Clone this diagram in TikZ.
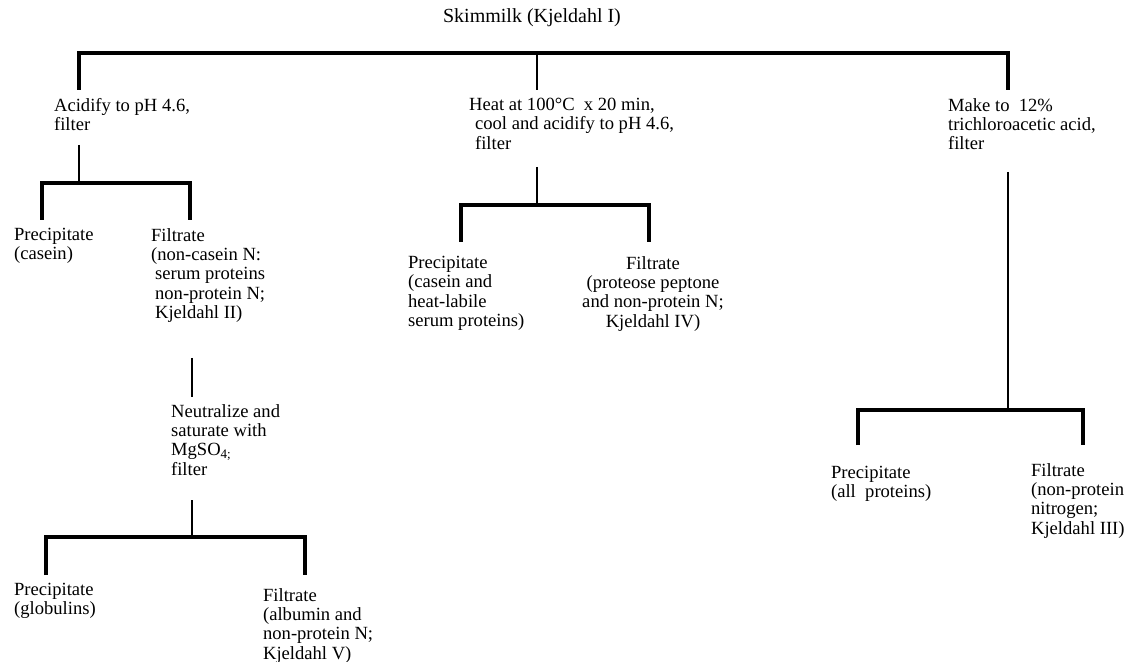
\documentclass[tikz,border=0pt]{standalone}
\usepackage{fontspec}
\setmainfont{Liberation Serif}
\usetikzlibrary{positioning}

\begin{document}
\begin{tikzpicture}[x=0.5pt,y=-0.5pt,line width=1.1pt,
		txt/.style={anchor=north west,inner sep=0,align=left,
			font=\fontsize{9.3}{9.7}\selectfont},
		split/.style={line width=1.6pt}]
		\useasboundingbox (0,0) rectangle (1124,662);
		% title
		\node[inner sep=0,anchor=base,font=\fontsize{10}{12}\selectfont] (skim) at (532,23)
			{Skimmilk (Kjeldahl I)};
		% first step
		\node[txt] (acid) at (53,97) {Acidify to pH 4.6,\\filter};
		\node[txt] (heat) at (468,97)
			{Heat at 100°C\ \ x 20 min,\\\hspace{3pt}cool and acidify to pH 4.6,\\\hspace{3pt}filter};
		\node[txt] (tca) at (947,97) {Make to\ \ 12\%\\trichloroacetic acid,\\filter};
		% fractions
		\node[txt] (precA) at (13,227) {Precipitate\\(casein)};
		\node[txt] (filtA) at (150,227)
			{Filtrate\\(non-casein N:\\\hspace{2pt}serum proteins\\\hspace{2pt}non-protein N;\\\hspace{2pt}Kjeldahl II)};
		\node[txt] (mgso) at (170,403) {Neutralize and\\saturate with\\MgSO\textsubscript{4;}\\filter};
		\node[txt] (precB) at (13,582) {Precipitate\\(globulins)};
		\node[txt] (filtB) at (262,587) {Filtrate\\(albumin and\\non-protein N;\\Kjeldahl V)};
		\node[txt] (precC) at (407,255) {Precipitate\\(casein and\\heat-labile\\serum proteins)};
		\node[txt,anchor=north,align=center] (filtC) at (653,255)
			{Filtrate\\(proteose peptone\\and non-protein N;\\Kjeldahl IV)};
		\node[txt] (precD) at (830,465) {Precipitate\\(all\ \ proteins)};
		\node[txt] (filtD) at (1030,462) {Filtrate\\(non-protein\\nitrogen;\\Kjeldahl III)};
		% splits
		\coordinate (top) at (537,53);
		\draw[split] (79,90) |- (1008,53) -- (1008,90);
		\draw (top) -- (537,90);
		\foreach \name/\sx/\sa/\by/\lx/\rx/\dy in {%
			acidj/79/145/183/42/190/220, heatj/537/167/205/461/649/242,%
			tcaj/1008/172/410/858/1083/445, mgsoj/192/500/537/46/305/575%
			} {%
			\coordinate (\name) at (\sx,\by);
			\draw[split] (\lx,\dy) |- (\rx,\by) -- (\rx,\dy);
			\draw (\sx,\sa) -- (\name);
		}
		\draw (192,358) -- (192,397);
	\end{tikzpicture}
\end{document}
